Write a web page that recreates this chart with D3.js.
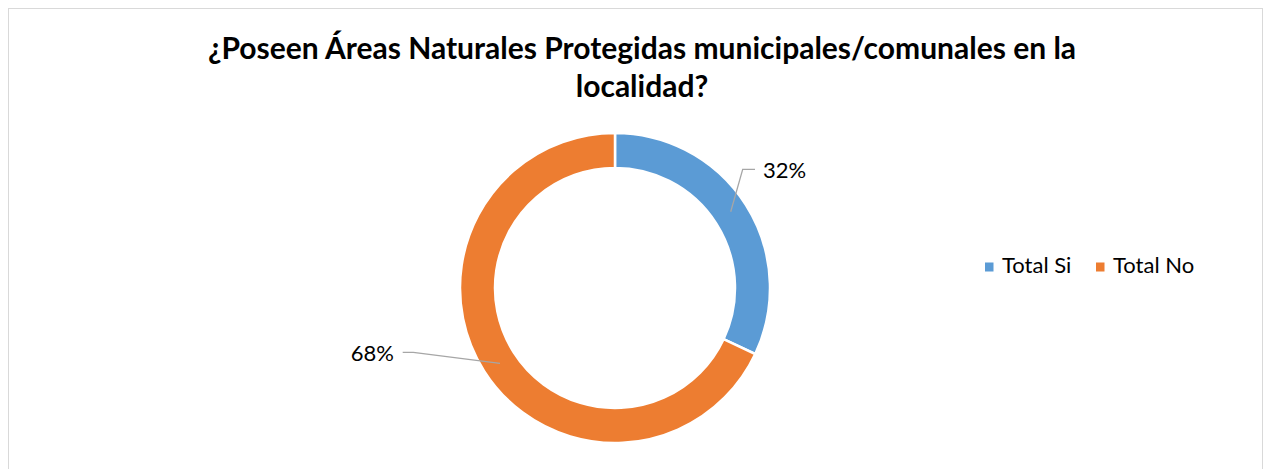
<!DOCTYPE html>
<html>
<head>
<meta charset="utf-8">
<script src="https://cdn.jsdelivr.net/npm/d3@7"></script>
<style>
  body { margin: 0; background: #fff; }
  svg { display: block; }
  text { font-family: Lato, 'Open Sans', sans-serif; }
</style>
</head>
<body>
<div id="chart"></div>
<script>
// chart data
const titleLines = ['¿Poseen Áreas Naturales Protegidas municipales/comunales en la', 'localidad?']
const categories = ['Total Si', 'Total No']
const values = [32, 68]
const colors = ['#5B9BD5', '#ED7D31']

const width = 1266, height = 469
const cx = 615, cy = 288
const outerR = 155, innerR = 120

const svg = d3.select('#chart')
  .append('svg')
  .attr('width', width)
  .attr('height', height)

// outer frame
svg.append('rect')
  .attr('x', 8.5).attr('y', 8.5)
  .attr('width', 1254).attr('height', 480)
  .attr('fill', '#fff')
  .attr('stroke', '#d9d9d9')
  .attr('stroke-width', 1)

// title
const title = svg.append('text')
  .attr('text-anchor', 'middle')
  .attr('font-weight', 'bold')
  .attr('font-size', 30)
  .attr('fill', '#000')
title.selectAll('tspan')
  .data(titleLines)
  .join('tspan')
  .attr('x', 642)
  .attr('y', (d, i) => 59 + i * 38)
  .text(d => d)

// donut
const pie = d3.pie().sort(null).value(d => d)
const arcs = pie(values)
const arc = d3.arc().innerRadius(innerR).outerRadius(outerR)

const g = svg.append('g').attr('transform', `translate(${cx}, ${cy})`)

g.selectAll('path')
  .data(arcs)
  .join('path')
  .attr('d', arc)
  .attr('fill', (d, i) => colors[i])
  .attr('stroke', '#fff')
  .attr('stroke-width', 2.5)

// leader lines + labels
const labelPos = [
  { start: [730.7, 211.7], elbow: [742.7, 169.3], end: [755, 169.3], text: [763, 178], anchor: 'start' },
  { start: [500, 363.3], elbow: [413.3, 352.3], end: [402.7, 352.3], text: [394, 361], anchor: 'end' }
]

svg.selectAll('polyline.leader')
  .data(labelPos)
  .join('polyline')
  .attr('class', 'leader')
  .attr('points', d => [d.start, d.elbow, d.end].map(p => p.join(',')).join(' '))
  .attr('fill', 'none')
  .attr('stroke', '#a6a6a6')
  .attr('stroke-width', 1.3)

svg.selectAll('text.pct')
  .data(arcs)
  .join('text')
  .attr('class', 'pct')
  .attr('x', (d, i) => labelPos[i].text[0])
  .attr('y', (d, i) => labelPos[i].text[1])
  .attr('text-anchor', (d, i) => labelPos[i].anchor)
  .attr('font-size', 22)
  .attr('fill', '#000')
  .text(d => Math.round((d.data / d3.sum(values)) * 100) + '%')

// legend
const legendX = [985, 1096]
const legend = svg.selectAll('g.legend')
  .data(categories)
  .join('g')
  .attr('class', 'legend')
  .attr('transform', (d, i) => `translate(${legendX[i]}, 262.5)`)

legend.append('rect')
  .attr('width', 8.5).attr('height', 9)
  .attr('fill', (d, i) => colors[i])

legend.append('text')
  .attr('x', 17)
  .attr('y', 10)
  .attr('font-size', 22)
  .attr('fill', '#000')
  .text(d => d)
</script>
</body>
</html>
